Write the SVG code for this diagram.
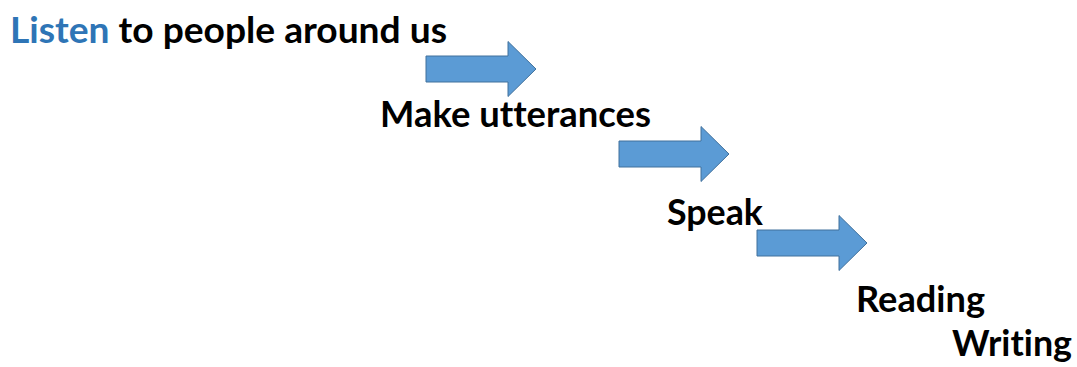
<svg xmlns="http://www.w3.org/2000/svg" width="1077" height="367" viewBox="0 0 1077 367">
<defs>
<style>
.t{font-family:Lato,"Open Sans","Liberation Sans",sans-serif;font-weight:bold;font-size:36px;fill:#000;font-variant-ligatures:none;font-feature-settings:"liga" 0,"clig" 0}
.b{fill:#2E75B6}
.arr{fill:#5B9BD5;stroke:#41719C;stroke-width:1}
</style>
<path id="arrow" class="arr" d="M0,-13 H82 V-27.5 L110,0 L82,27.5 V13 H0 Z"/>
</defs>
<rect width="1077" height="367" fill="#fff"/>
<g id="node-listen"><text class="t" x="10" y="43" textLength="437" lengthAdjust="spacingAndGlyphs"><tspan class="b">Listen</tspan> to people around us</text></g>
<g id="node-make"><text class="t" x="380" y="127" textLength="271" lengthAdjust="spacingAndGlyphs">Make utterances</text></g>
<g id="node-speak"><text class="t" x="667" y="225" textLength="96" lengthAdjust="spacingAndGlyphs">Speak</text></g>
<g id="node-reading"><text class="t" x="856" y="312" textLength="129" lengthAdjust="spacingAndGlyphs">Reading</text></g>
<g id="node-writing"><text class="t" x="952" y="356" textLength="120" lengthAdjust="spacingAndGlyphs">Writing</text></g>
<g id="connectors">
<use href="#arrow" x="426" y="69"/>
<use href="#arrow" x="619" y="154"/>
<use href="#arrow" x="757" y="243"/>
</g>
</svg>
